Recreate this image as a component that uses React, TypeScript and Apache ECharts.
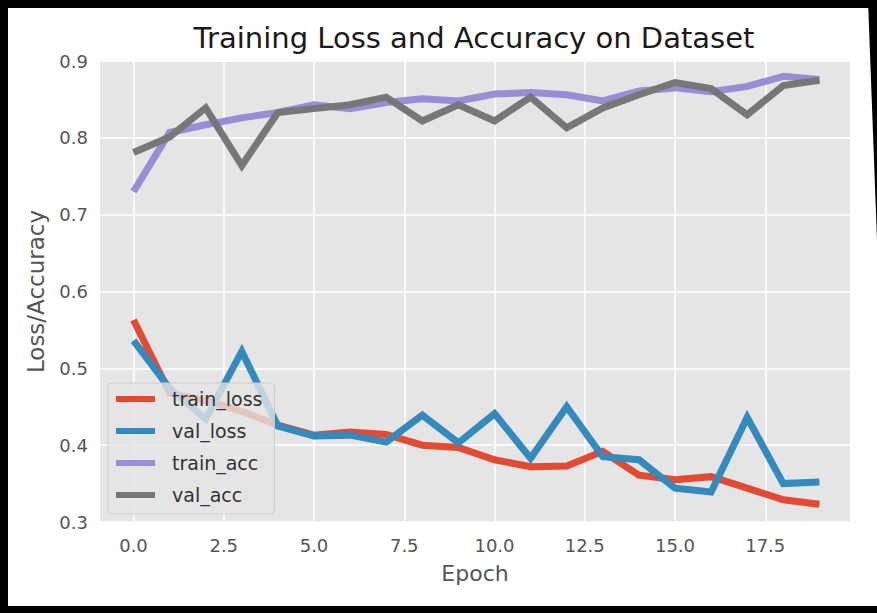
import React, { useEffect, useRef } from "react";
import * as echarts from "echarts";

const epochs = [0, 1, 2, 3, 4, 5, 6, 7, 8, 9, 10, 11, 12, 13, 14, 15, 16, 17, 18, 19];
const trainLoss = [0.563, 0.468, 0.458, 0.444, 0.426, 0.413, 0.417, 0.414, 0.400, 0.397, 0.381, 0.372, 0.373, 0.392, 0.361, 0.355, 0.359, 0.344, 0.329, 0.323];
const valLoss = [0.536, 0.474, 0.434, 0.522, 0.425, 0.412, 0.413, 0.404, 0.439, 0.403, 0.441, 0.383, 0.450, 0.385, 0.381, 0.344, 0.339, 0.436, 0.350, 0.352];
const trainAcc = [0.730, 0.807, 0.817, 0.826, 0.833, 0.843, 0.838, 0.846, 0.851, 0.848, 0.857, 0.859, 0.856, 0.848, 0.861, 0.865, 0.860, 0.867, 0.880, 0.876];
const valAcc = [0.781, 0.801, 0.839, 0.764, 0.833, 0.838, 0.843, 0.853, 0.822, 0.843, 0.822, 0.853, 0.813, 0.839, 0.856, 0.872, 0.864, 0.830, 0.868, 0.875];

const seriesNames = ["train_loss", "val_loss", "train_acc", "val_acc"];
const seriesColors = ["#E24A33", "#348ABD", "#988ED5", "#777777"];
const seriesValues = [trainLoss, valLoss, trainAcc, valAcc];

const FONT = "DejaVu Sans";

export default function App() {
  const ref = useRef<HTMLDivElement>(null);
  useEffect(() => {
    const chart = echarts.init(ref.current!, null, { renderer: "svg" });
    const option: any = {
      animation: false,
      backgroundColor: "#ffffff",
      textStyle: { fontFamily: FONT },
      title: {
        text: "Training Loss and Accuracy on Dataset",
        left: 469,
        textAlign: "center",
        top: 18,
        textStyle: { fontFamily: FONT, fontSize: 29, fontWeight: "normal", color: "#1a1a1a" },
      },
      grid: [
        { left: 100, top: 61, width: 750, height: 461, show: true, backgroundColor: "#E5E5E5", borderWidth: 0 },
        { left: 133.5, top: 61, width: 722, height: 461, show: false },
      ],
      xAxis: [
        {
          gridIndex: 0, type: "value", min: 0, max: 1,
          axisLine: { show: false }, axisTick: { show: false }, axisLabel: { show: false }, splitLine: { show: false },
          name: "Epoch", nameLocation: "middle", nameGap: 40,
          nameTextStyle: { fontFamily: FONT, fontSize: 22, color: "#555555" },
        },
        {
          gridIndex: 1, type: "value", min: 0, max: 20, interval: 2.5,
          axisLine: { show: false }, axisTick: { show: false },
          axisLabel: { formatter: (v: number) => v.toFixed(1), showMaxLabel: false, fontFamily: FONT, fontSize: 18, color: "#555555", margin: 14 },
          splitLine: { show: true, lineStyle: { color: "#ffffff", width: 1.5 } },
        },
      ],
      yAxis: [
        {
          gridIndex: 0, type: "value", min: 0.3, max: 0.9, interval: 0.1,
          axisLine: { show: false }, axisTick: { show: false },
          axisLabel: { formatter: (v: number) => v.toFixed(1), fontFamily: FONT, fontSize: 18, color: "#555555", margin: 12 },
          splitLine: { show: true, lineStyle: { color: "#ffffff", width: 1.5 } },
          name: "Loss/Accuracy", nameLocation: "middle", nameGap: 53, nameRotate: 90,
          nameTextStyle: { fontFamily: FONT, fontSize: 23, color: "#555555" },
        },
        { gridIndex: 1, type: "value", min: 0.3, max: 0.9, show: false },
      ],
      legend: {
        orient: "vertical",
        left: 108,
        top: 383,
        backgroundColor: "rgba(229,229,229,0.8)",
        borderColor: "#CCCCCC",
        borderWidth: 1,
        borderRadius: 4,
        padding: [6, 12, 9, 8],
        itemGap: 12,
        itemWidth: 39,
        itemHeight: 6,
        icon: "rect",
        textStyle: { fontFamily: FONT, fontSize: 19, color: "#333333", lineHeight: 20, padding: [0, 0, 0, 12] },
        data: seriesNames,
      },
      series: seriesNames.map((name, k) => ({
        name,
        type: "line",
        xAxisIndex: 1,
        yAxisIndex: 1,
        data: epochs.map((e, i) => [e, seriesValues[k][i]]),
        symbol: "none",
        clip: false,
        color: seriesColors[k],
        lineStyle: { color: seriesColors[k], width: 7, join: "miter" },
      })),
      graphic: [
        { type: "rect", left: 0, top: 0, shape: { width: 877, height: 8 }, style: { fill: "#000" }, z: 100 },
        { type: "rect", left: 0, top: 0, shape: { width: 8, height: 613 }, style: { fill: "#000" }, z: 100 },
        { type: "rect", left: 0, top: 606, shape: { width: 877, height: 7 }, style: { fill: "#000" }, z: 100 },
        { type: "polygon", shape: { points: [[868, 0], [877, 0], [877, 240]] }, style: { fill: "#000" }, z: 100 },
      ],
    };
    chart.setOption(option);
    return () => chart.dispose();
  }, []);
  return <div ref={ref} style={{ position: "fixed", left: 0, top: 0, width: 877, height: 613 }} />;
}
